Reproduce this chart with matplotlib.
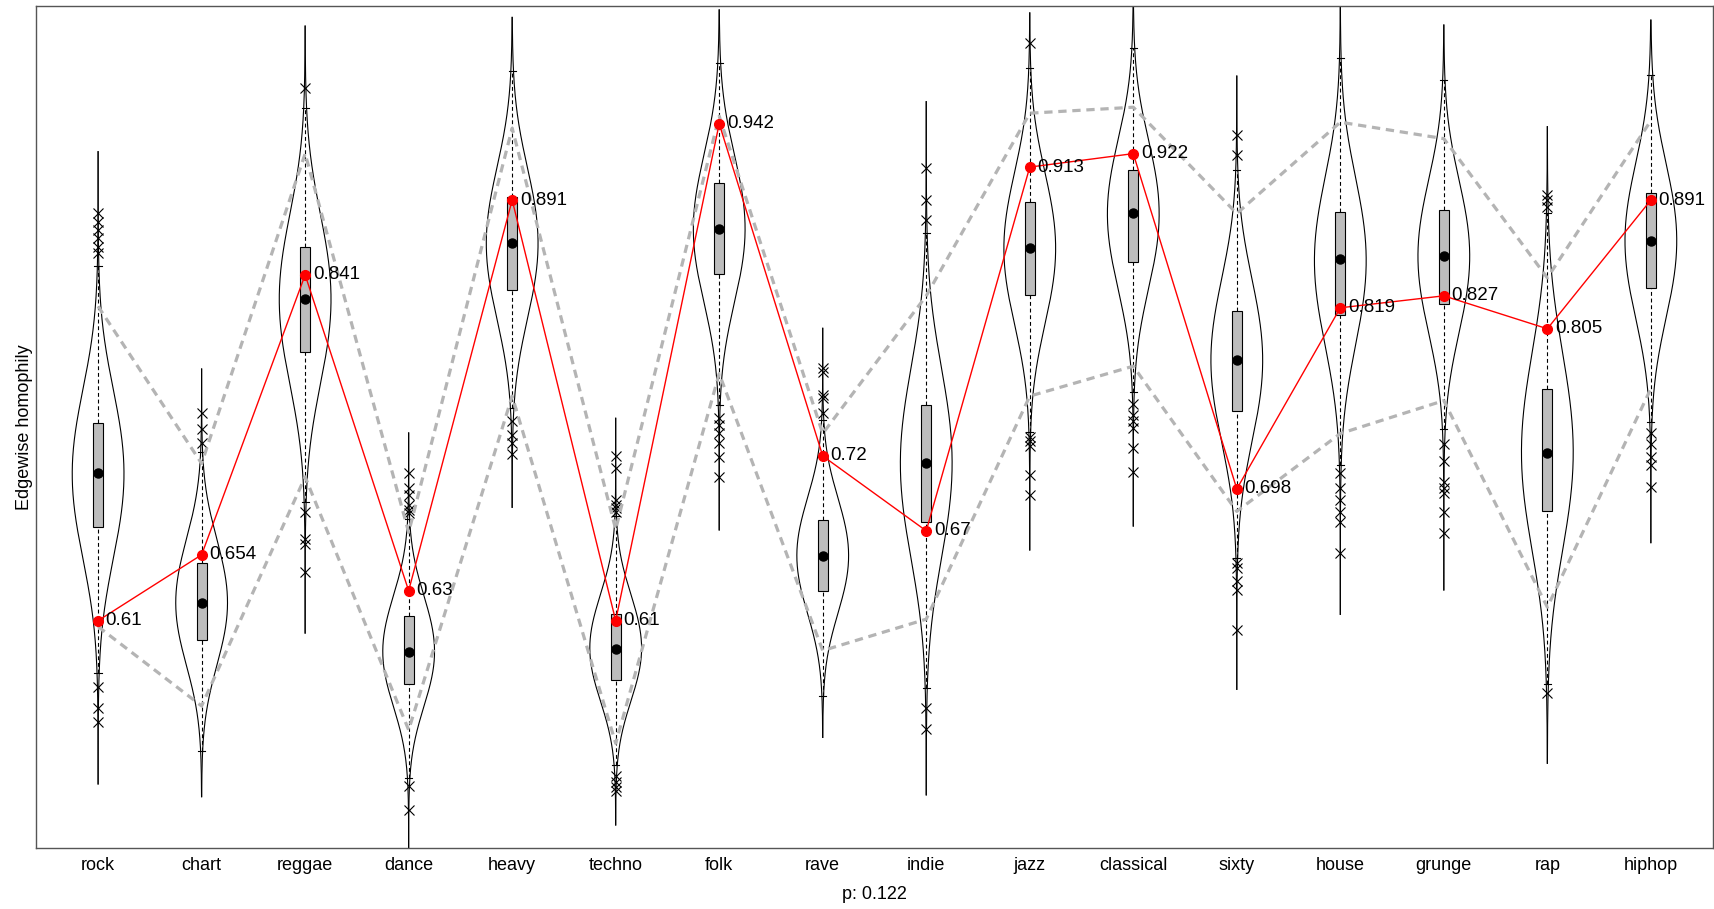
import numpy as np
import matplotlib
matplotlib.use('Agg')
import matplotlib.pyplot as plt
from matplotlib.patches import Rectangle

plt.rcParams['font.family'] = ['Liberation Sans', 'DejaVu Sans']

# genres along the x axis
genres = ['rock', 'chart', 'reggae', 'dance', 'heavy', 'techno', 'folk', 'rave',
          'indie', 'jazz', 'classical', 'sixty', 'house', 'grunge', 'rap', 'hiphop']

# observed edgewise homophily (red line)
observed = [0.61, 0.654, 0.841, 0.63, 0.891, 0.61, 0.942, 0.72,
            0.67, 0.913, 0.922, 0.698, 0.819, 0.827, 0.805, 0.891]

# null distribution summaries per genre
box_q1 = [0.6728, 0.5969, 0.7897, 0.5675, 0.8309, 0.5704, 0.8414, 0.6298,
          0.6761, 0.8275, 0.8498, 0.7502, 0.8142, 0.8215, 0.6832, 0.8320]
box_median = [0.7084, 0.6216, 0.8247, 0.5889, 0.8621, 0.5913, 0.8718, 0.6534,
              0.7151, 0.8587, 0.8825, 0.7841, 0.8516, 0.8538, 0.7218, 0.8638]
box_q3 = [0.7422, 0.6487, 0.8598, 0.6131, 0.8932, 0.6142, 0.9021, 0.6772,
          0.7544, 0.8899, 0.9110, 0.8170, 0.8832, 0.8843, 0.7645, 0.8955]
whisker_low = [0.5752, 0.5231, 0.6895, 0.5050, 0.7520, 0.5136, 0.7540, 0.5597,
               0.5652, 0.7360, 0.7630, 0.6520, 0.7140, 0.7380, 0.5680, 0.7430]
whisker_high = [0.8469, 0.7227, 0.9527, 0.6780, 0.9772, 0.6800, 0.9827, 0.7440,
                0.8692, 0.9790, 0.9927, 0.9110, 0.9857, 0.9712, 0.8821, 0.9745]

# extent of the density tails
tail_low = [0.5009, 0.4924, 0.6017, 0.4400, 0.6857, 0.4735, 0.6706, 0.5320,
            0.4936, 0.6572, 0.6732, 0.5641, 0.6142, 0.6305, 0.5147, 0.6621]
tail_high = [0.9233, 0.7781, 1.0072, 0.7354, 1.0130, 0.7452, 1.0180, 0.8053,
             0.9567, 1.0160, 1.0300, 0.9738, 1.0300, 1.0079, 0.9400, 1.0112]

# grey dashed bands
band_low = [0.606, 0.553, 0.706, 0.537, 0.760, 0.528, 0.775, 0.590,
            0.611, 0.760, 0.780, 0.683, 0.735, 0.757, 0.619, 0.765]
band_high = [0.820, 0.715, 0.922, 0.669, 0.939, 0.671, 0.947, 0.735,
             0.827, 0.949, 0.953, 0.882, 0.943, 0.932, 0.839, 0.944]

outliers = [
    [0.8823, 0.8763, 0.8710, 0.8656, 0.8596, 0.8556, 0.5659, 0.5514, 0.5425],
    [0.7487, 0.7383, 0.7285],
    [0.9656, 0.6828, 0.6643, 0.6610, 0.6427],
    [0.7086, 0.6986, 0.6939, 0.6873, 0.6839, 0.6819, 0.4996, 0.4835],
    [0.7434, 0.7340, 0.7287, 0.7213],
    [0.7200, 0.7118, 0.6906, 0.6873, 0.6851, 0.6828, 0.5060, 0.5020, 0.4990, 0.4960],
    [0.7454, 0.7407, 0.7354, 0.7287, 0.7195, 0.7062],
    [0.7788, 0.7761, 0.7607, 0.7587, 0.7487],
    [0.9122, 0.8910, 0.8776, 0.5514, 0.5374],
    [0.9957, 0.7327, 0.7300, 0.7267, 0.7073, 0.6940],
    [0.7547, 0.7474, 0.7434, 0.7384, 0.7253, 0.7093],
    [0.9344, 0.9211, 0.6485, 0.6452, 0.6362, 0.6305, 0.6040],
    [0.7086, 0.6986, 0.6906, 0.6826, 0.6759, 0.6552],
    [0.7280, 0.7167, 0.7026, 0.6986, 0.6953, 0.6826, 0.6686],
    [0.8943, 0.8910, 0.8865, 0.5615],
    [0.7352, 0.7280, 0.7195, 0.7140, 0.6995],
]

fig = plt.figure(figsize=(17.14, 9.09), dpi=100)
ax = fig.add_axes([0.021, 0.0674, 0.9784, 0.9263])
x = np.arange(1, len(genres) + 1)

half_max = 0.25
box_w = 0.096
cap_w = 0.035


def violin_halfwidth(i, ys):
    # gaussian kernel density over the quartiles, bandwidth tied to the IQR
    centers = np.array([box_q1[i], box_median[i], box_q3[i]])
    bw = 0.64 * (box_q3[i] - box_q1[i])
    dens = np.exp(-0.5 * ((ys[:, None] - centers[None, :]) / bw) ** 2).sum(axis=1)
    return half_max * dens / dens.max()


for i, xc in enumerate(x):
    ys = np.linspace(tail_low[i], tail_high[i], 600)
    half = violin_halfwidth(i, ys)
    ax.plot(xc - half, ys, color='black', lw=0.8, zorder=1)
    ax.plot(xc + half, ys, color='black', lw=0.8, zorder=1)

    # whiskers and caps
    ax.plot([xc, xc], [whisker_low[i], box_q1[i]], color='black', lw=0.8,
            dashes=(3.5, 2.5), zorder=2)
    ax.plot([xc, xc], [box_q3[i], whisker_high[i]], color='black', lw=0.8,
            dashes=(3.5, 2.5), zorder=2)
    for w in (whisker_low[i], whisker_high[i]):
        ax.plot([xc - cap_w, xc + cap_w], [w, w], color='black', lw=0.8, zorder=2)

    # box
    ax.add_patch(Rectangle((xc - box_w / 2, box_q1[i]), box_w, box_q3[i] - box_q1[i],
                           facecolor='#bdbdbd', edgecolor='black', lw=0.8, zorder=4))

    # outliers
    ax.plot([xc] * len(outliers[i]), outliers[i], 'x', color='black',
            ms=7, mew=0.8, zorder=2)

# grey dashed bands
for band in (band_low, band_high):
    ax.plot(x, band, color='#b4b4b4', lw=2.3, dashes=(2.6, 1.8), zorder=3)

ax.plot(x, box_median, 'o', color='black', ms=6.5, zorder=5)

# observed values
ax.plot(x, observed, color='red', lw=1.0, marker='o', ms=7, zorder=6)
for xc, v in zip(x, observed):
    ax.annotate(f'{v:g}', (xc, v), xytext=(5.5, 0), textcoords='offset points',
                ha='left', va='center', fontsize=13.5, color='black', zorder=7)

ax.set_xlim(0.4, 16.6)
ax.set_ylim(0.4583, 1.0208)
ax.set_xticks(x, genres)
ax.set_yticks([])
ax.tick_params(axis='x', length=0, pad=7, labelsize=13)
ax.set_xlabel('p: 0.122', fontsize=13, labelpad=8)
ax.set_ylabel('Edgewise homophily', fontsize=13, labelpad=2)
for sp in ax.spines.values():
    sp.set_color('#555555')
    sp.set_linewidth(1.0)

fig.savefig('out.png', dpi=100)
